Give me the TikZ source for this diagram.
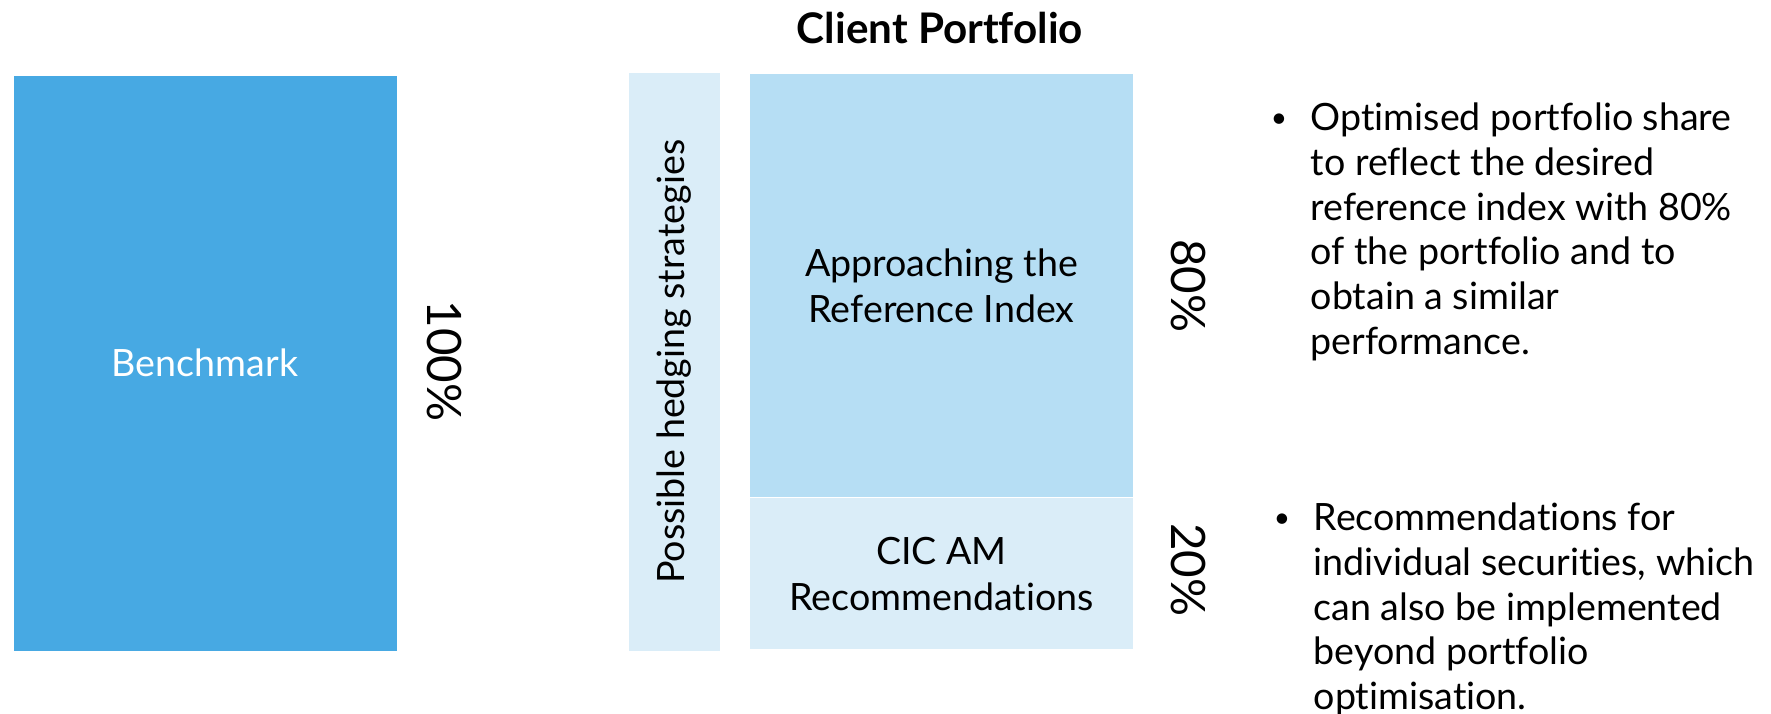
\documentclass[tikz,border=0pt]{standalone}
\usepackage{fontspec}
\setmainfont{Lato}[Ligatures=NoCommon]
\usetikzlibrary{positioning}
\definecolor{benchblue}{RGB}{71,169,227}
\definecolor{refblue}{RGB}{182,222,244}
\definecolor{paleblue}{RGB}{218,237,248}
\begin{document}
\begin{tikzpicture}[x = 1cm,y = 1cm,line join = round,
	txt/.style = {font=\fontsize{10.7}{13.1}\selectfont,align=center,inner sep=0pt},
	note/.style = {txt,font=\fontsize{10.7}{12.75}\selectfont,align=left,anchor=north west},
	pct/.style = {font=\fontsize{13.5}{16}\selectfont,rotate=-90,inner sep=0pt},
	blk/.style = {txt,draw=none,minimum width=3.83cm},
	dot/.style = {font=\fontsize{8}{8}\selectfont,inner sep=0pt}]
	\useasboundingbox (0,0) rectangle (17.71,-7.14);
	%Các khối
	\node[blk,fill=benchblue,text=white,minimum height=5.749cm] (bench) at (2.05,-3.632) {Benchmark};
	\node[txt,fill=paleblue,rotate=90,minimum width=5.776cm,minimum height=0.905cm] (hedge) at (6.7425,-3.618) {Possible hedging strategies};
	\node[blk,fill=refblue,minimum height=4.225cm] (appr) at (9.415,-2.8575) {Approaching the\\ Reference Index};
	\node[blk,fill=paleblue,minimum height=1.51cm,below = 0cm of appr] (cic) {CIC AM\\ Recommendations};
	\node[font=\fontsize{12}{14}\selectfont\bfseries,inner sep=0pt] (title) at (9.40,-0.28) {Client Portfolio};
	%Tỉ lệ
	\node[pct] (p100) at (4.44,-3.61) {100\%};
	\node[pct] (p80) at (11.88,-2.86) {80\%};
	\node[pct] (p20) at (11.88,-5.70) {20\%};
	%Ghi chú
	\node[note] (opt) at (13.10,-1.02) {Optimised portfolio share\\ to reflect the desired\\ reference index with 80\%\\ of the portfolio and to\\ obtain a similar\\ performance.};
	\node[dot] (b1) at ([xshift=-0.31cm,yshift=-0.19cm]opt.north west) {\textbullet};
	\node[note] (rec) at (13.13,-5.02) {Recommendations for\\ individual securities, which\\ can also be implemented\\ beyond portfolio\\ optimisation.};
	\node[dot] (b2) at ([xshift=-0.31cm,yshift=-0.19cm]rec.north west) {\textbullet};
\end{tikzpicture}
\end{document}
